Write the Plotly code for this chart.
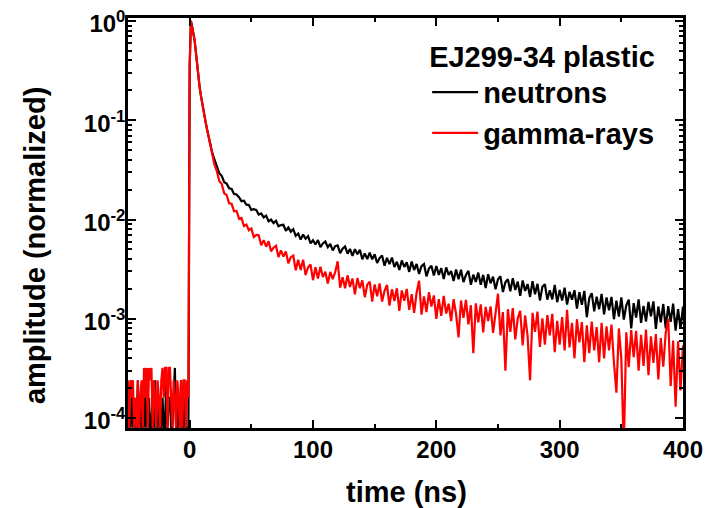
import plotly.graph_objects as go

# ---- data (time in ns, amplitude normalized) ----
time_ns = [
    -50, -49, -48, -47, -46, -45, -44, -43, -42, -41,
    -40, -39, -38, -37, -36, -35, -34, -33, -32, -31,
    -30, -29, -28, -27, -26, -25, -24, -23, -22, -21,
    -20, -19, -18, -17, -16, -15, -14, -13, -12, -11,
    -10, -9, -8, -7, -6, -5, -4, -3, -2, -1,
    0, 1, 2, 3, 4, 5, 6, 7, 8, 9, 10,
    11, 12, 13, 14, 15, 16, 17, 18, 19, 20,
    22, 24, 26, 28, 30, 32, 34, 36, 38,
    40, 42, 44, 46, 48, 50, 52, 54, 56, 58,
    60, 62, 64, 66, 68, 70, 72, 74, 76, 78,
    80, 82, 84, 86, 88, 90, 92, 94, 96, 98, 100,
    102, 104, 106, 108, 110, 112, 114, 116, 118, 120,
    122, 124, 126, 128, 130, 132, 134, 136, 138, 140,
    142, 144, 146, 148, 150, 152, 154, 156, 158, 160,
    162, 164, 166, 168, 170, 172, 174, 176, 178, 180,
    182, 184, 186, 188, 190, 192, 194, 196, 198, 200,
    202, 204, 206, 208, 210, 212, 214, 216, 218, 220,
    222, 224, 226, 228, 230, 232, 234, 236, 238, 240,
    242, 244, 246, 248, 250, 252, 254, 256, 258, 260,
    262, 264, 266, 268, 270, 272, 274, 276, 278, 280,
    282, 284, 286, 288, 290, 292, 294, 296, 298, 300,
    302, 304, 306, 308, 310, 312, 314, 316, 318, 320,
    322, 324, 326, 328, 330, 332, 334, 336, 338, 340,
    342, 344, 346, 348, 350, 352, 354, 356, 358, 360,
    362, 364, 366, 368, 370, 372, 374, 376, 378, 380,
    382, 384, 386, 388, 390, 392, 394, 396, 398, 400,
]

neutrons = [
    0.8e-4, 1.6e-4, 0.8e-4, 2.4e-4, 0.8e-4, 1.6e-4, 0.8e-4, 0.8e-4, 2.4e-4, 0.8e-4,
    1.6e-4, 0.8e-4, 0.8e-4, 1.6e-4, 0.8e-4, 3.2e-4, 0.8e-4, 1.6e-4, 0.8e-4, 0.8e-4,
    1.6e-4, 0.8e-4, 2.4e-4, 0.8e-4, 0.8e-4, 1.6e-4, 0.8e-4, 0.8e-4, 1.6e-4, 0.8e-4,
    0.8e-4, 2.4e-4, 0.8e-4, 1.6e-4, 1.6e-4, 0.8e-4, 0.8e-4, 1.6e-4, 3.2e-4, 0.8e-4,
    0.8e-4, 1.6e-4, 0.8e-4, 2.4e-4, 0.8e-4, 0.8e-4, 1.6e-4, 0.8e-4, 0.8e-4, 0.8e-4,
    0.35, 1.0, 0.88, 0.76, 0.64, 0.49, 0.36, 0.28, 0.22, 0.18, 0.15,
    0.128, 0.11, 0.095, 0.082, 0.071, 0.062, 0.055, 0.049, 0.044, 0.040,
    345e-4, 292e-4, 276e-4, 238e-4, 230e-4, 206e-4, 203e-4, 181e-4, 179e-4,
    168e-4, 153e-4, 155e-4, 141e-4, 140e-4, 125e-4, 127e-4, 125e-4, 112e-4, 115e-4,
    105e-4, 109.5e-4, 96e-4, 100e-4, 92e-4, 97e-4, 85.5e-4, 88e-4, 88.5e-4, 77e-4,
    83e-4, 75.5e-4, 80e-4, 68.5e-4, 72e-4, 63e-4, 70.5e-4, 64e-4, 68e-4, 57.5e-4, 62e-4,
    56.1e-4, 62.2e-4, 52.8e-4, 57.4e-4, 60e-4, 52.6e-4, 56.7e-4, 48.8e-4, 53.9e-4, 55e-4,
    45.8e-4, 50.7e-4, 53.5e-4, 45.3e-4, 50.6e-4, 43e-4, 50.3e-4, 44.6e-4, 49.5e-4, 39.8e-4,
    45.6e-4, 40e-4, 46.3e-4, 39.7e-4, 44.6e-4, 36.5e-4, 40.9e-4, 43.3e-4, 34.2e-4, 41.1e-4,
    35.5e-4, 41.4e-4, 33.2e-4, 37.6e-4, 31e-4, 38.7e-4, 33.3e-4, 37e-4, 29.7e-4, 37.8e-4,
    31e-4, 35.7e-4, 28.3e-4, 34e-4, 35.7e-4, 26.8e-4, 32e-4, 34.2e-4, 27.3e-4, 34e-4,
    27.7e-4, 32.4e-4, 25.2e-4, 32.9e-4, 27.6e-4, 30.3e-4, 24e-4, 31.3e-4, 25e-4, 31.2e-4,
    23.4e-4, 27.6e-4, 30.4e-4, 22.1e-4, 27.8e-4, 23.5e-4, 29.2e-4, 22e-4, 27.7e-4, 20.4e-4,
    28.1e-4, 22.8e-4, 26.6e-4, 19.8e-4, 25e-4, 26.8e-4, 18.6e-4, 23.3e-4, 25.1e-4, 18.9e-4,
    25.7e-4, 19.5e-4, 23.7e-4, 17e-4, 24.3e-4, 19.1e-4, 22.4e-4, 16.6e-4, 23.9e-4, 17.7e-4,
    22.5e-4, 15.3e-4, 21e-4, 22.3e-4, 15.6e-4, 19.4e-4, 15.7e-4, 21.9e-4, 14.7e-4, 19.5e-4,
    15.3e-4, 20.6e-4, 13.9e-4, 18.7e-4, 15.6e-4, 19.4e-4, 12.7e-4, 18.5e-4, 13.8e-4, 19.1e-4,
    10.4e-4, 16.2e-4, 18.1e-4, 11.9e-4, 16.7e-4, 12.5e-4, 17.8e-4, 11.1e-4, 16.4e-4, 12.2e-4,
    16.6e-4, 9.9e-4, 15.2e-4, 10.5e-4, 16.4e-4, 9.8e-4, 13.7e-4, 15.6e-4, 8e-4, 14.4e-4,
    10.3e-4, 15.7e-4, 9.1e-4, 13.5e-4, 9.4e-4, 14.8e-4, 10.6e-4, 15e-4, 7.9e-4, 13.3e-4,
    9.2e-4, 14.1e-4, 8e-4, 13.4e-4, 9.3e-4, 14.2e-4, 7.6e-4, 12.5e-4, 7.9e-4, 13.3e-4,
]

gamma_rays = [
    2.4e-4, 0.8e-4, 2.4e-4, 1.6e-4, 2.4e-4, 0.8e-4, 1.6e-4, 0.8e-4, 2.4e-4, 0.8e-4,
    1.6e-4, 2.4e-4, 0.8e-4, 3.2e-4, 1.6e-4, 3.2e-4, 0.8e-4, 3.2e-4, 2.4e-4, 3.2e-4,
    0.8e-4, 2.4e-4, 1.6e-4, 0.8e-4, 2.4e-4, 1.6e-4, 0.8e-4, 2.4e-4, 3.2e-4, 1.6e-4,
    3.2e-4, 3.2e-4, 0.8e-4, 3.2e-4, 3.2e-4, 1.6e-4, 0.8e-4, 2.4e-4, 1.6e-4, 0.8e-4,
    2.4e-4, 1.6e-4, 0.8e-4, 2.4e-4, 0.8e-4, 2.4e-4, 2.4e-4, 0.8e-4, 2.4e-4, 1.6e-4,
    0.35, 1.0, 0.88, 0.76, 0.64, 0.49, 0.36, 0.28, 0.22, 0.18, 0.15,
    0.128, 0.11, 0.095, 0.082, 0.071, 0.062, 0.054, 0.047, 0.041, 0.036,
    308e-4, 245e-4, 228e-4, 184e-4, 176e-4, 146e-4, 144e-4, 121e-4, 122e-4,
    102e-4, 104e-4, 86e-4, 89e-4, 78e-4, 81e-4, 66.5e-4, 70e-4, 69.5e-4, 55e-4,
    62e-4, 53.2e-4, 60.5e-4, 47.8e-4, 52.1e-4, 54.5e-4, 41.8e-4, 49e-4, 42.4e-4, 47.8e-4,
    36.3e-4, 41.8e-4, 43.3e-4, 30.8e-4, 39.4e-4, 31e-4, 39.3e-4, 27.6e-4, 32.9e-4, 35.2e-4, 24.5e-4,
    33e-4, 25.4e-4, 33.4e-4, 26.3e-4, 29.8e-4, 22.7e-4, 29.7e-4, 25.1e-4, 29.6e-4, 38e-4,
    20.6e-4, 26.2e-4, 20.3e-4, 27.4e-4, 20.9e-4, 25.5e-4, 17.6e-4, 25.7e-4, 20.3e-4, 24.4e-4,
    16.5e-4, 22.1e-4, 23.7e-4, 14.9e-4, 22.2e-4, 16.9e-4, 22.7e-4, 14.9e-4, 19.1e-4, 21.9e-4,
    13.6e-4, 19.8e-4, 15.1e-4, 20.3e-4, 12e-4, 19.3e-4, 15.2e-4, 20e-4, 12.3e-4, 17.7e-4,
    11.5e-4, 18.3e-4, 24.2e-4, 11e-4, 16.8e-4, 11.7e-4, 18.5e-4, 13.3e-4, 17.2e-4, 10e-4,
    15.8e-4, 10.7e-4, 17e-4, 11.3e-4, 14.2e-4, 9.5e-4, 15.8e-4, 11.2e-4, 6.5e-4, 15.3e-4,
    10.2e-4, 15.5e-4, 8.8e-4, 13.7e-4, 4.5e-4, 14.3e-4, 9.2e-4, 14e-4, 7.3e-4, 13.2e-4,
    9.5e-4, 13.3e-4, 7.2e-4, 11.5e-4, 17.9e-4, 6.8e-4, 11.7e-4, 3.0e-4, 12.5e-4, 7.4e-4,
    12.8e-4, 6.2e-4, 10.1e-4, 12e-4, 5.4e-4, 10.8e-4, 6.7e-4, 2.4e-4, 11.5e-4, 7.4e-4,
    11.8e-4, 5.2e-4, 10.1e-4, 5.5e-4, 10.9e-4, 6.8e-4, 11.2e-4, 4.6e-4, 9.55e-4, 5.5e-4,
    10.4e-4, 4.8e-4, 12.3e-4, 5.15e-4, 9.1e-4, 4.0e-4, 9.9e-4, 5.8e-4, 9.25e-4, 3.65e-4,
    8.6e-4, 4.5e-4, 9.4e-4, 4.8e-4, 8.25e-4, 3.65e-4, 9.1e-4, 4.0e-4, 8.4e-4, 4.8e-4,
    8.75e-4, 3.65e-4, 1.8e-4, 8.0e-4, 3.95e-4, 0.5e-4, 7.3e-4, 3.25e-4, 7.7e-4, 4.1e-4,
    7.55e-4, 3.0e-4, 6.9e-4, 3.35e-4, 7.8e-4, 2.7e-4, 6.65e-4, 3.6e-4, 7.0e-4, 2.45e-4,
    6.4e-4, 3.3e-4, 7.25e-4, 10e-4, 2.1e-4, 6.05e-4, 1.3e-4, 5.95e-4, 1.9e-4, 5.4e-4,
]

x_tick_vals = [0, 100, 200, 300, 400]
x_minor_vals = [-50, 50, 150, 250, 350]
y_tick_vals = [1e-4, 1e-3, 1e-2, 1e-1, 1]
y_tick_text = ["10<sup>-4</sup>", "10<sup>-3</sup>", "10<sup>-2</sup>",
               "10<sup>-1</sup>", "10<sup>0</sup>"]
y_minor_vals = [m * 10.0 ** e for e in range(-4, 0) for m in range(2, 10)]

FONT = "Liberation Sans, Arial, sans-serif"
title_font = dict(family=FONT, size=29, color="black", weight="bold")

fig = go.Figure()
fig.add_trace(go.Scatter(x=time_ns, y=neutrons, mode="lines", name="neutrons",
                         line=dict(color="#000000", width=2.2)))
fig.add_trace(go.Scatter(x=time_ns, y=gamma_rays, mode="lines", name="gamma-rays",
                         line=dict(color="#ff0000", width=2.2)))

axis_common = dict(
    showline=True, linewidth=2.5, linecolor="black", mirror="ticks",
    ticks="inside", ticklen=8, tickwidth=2, tickcolor="black",
    showgrid=False, zeroline=False, automargin=False,
    ticklabeloverflow="allow",
    tickfont=dict(family=FONT, size=24, color="black", weight="bold"),
)

fig.update_layout(
    width=714, height=508,
    # the page body adds an 8 px offset, so margins are shifted to compensate
    margin=dict(l=120, r=39, t=10, b=88),
    paper_bgcolor="white", plot_bgcolor="white",
    xaxis=dict(
        range=[-50, 400], tickvals=x_tick_vals, ticklabelstandoff=-2,
        minor=dict(tickvals=x_minor_vals, ticks="inside", ticklen=4,
                   tickwidth=2, tickcolor="black"),
        **axis_common,
    ),
    yaxis=dict(
        type="log", range=[-4.1, 0.03], ticklabelstandoff=-5, ticklabelshift=3,
        tickvals=y_tick_vals, ticktext=y_tick_text,
        minor=dict(tickvals=y_minor_vals, ticks="inside", ticklen=4,
                   tickwidth=1.5, tickcolor="black"),
        **axis_common,
    ),
    annotations=[
        dict(text="time (ns)", xref="paper", yref="paper", x=0.501, y=-0.156,
             xanchor="center", yanchor="middle", showarrow=False, font=title_font),
        dict(text="amplitude (normalized)", xref="paper", yref="paper",
             x=-0.1676, y=0.446, textangle=-90,
             xanchor="center", yanchor="middle", showarrow=False, font=title_font),
    ],
    legend=dict(
        x=0.539, y=0.973, xanchor="left", yanchor="top",
        bgcolor="rgba(0,0,0,0)", borderwidth=0, itemwidth=46,
        title=dict(text="EJ299-34 plastic", side="top",
                   font=dict(family=FONT, size=29, color="black", weight="bold")),
        font=dict(family=FONT, size=29, color="black", weight="bold"),
        tracegroupgap=0,
    ),
    showlegend=True,
)

fig.write_html("out.html")
